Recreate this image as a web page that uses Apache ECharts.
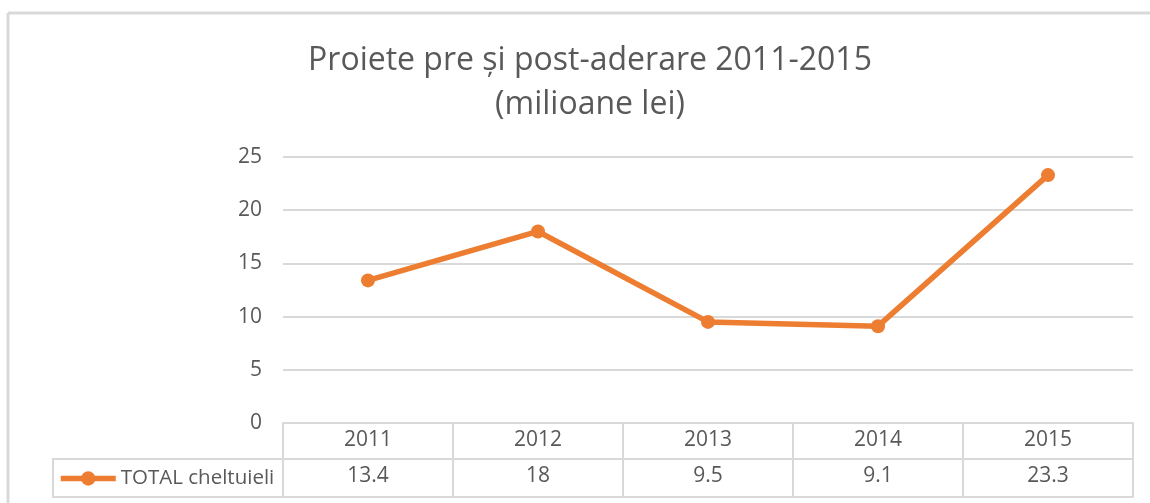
<!DOCTYPE html>
<html>
<head>
<meta charset="utf-8">
<title>Proiete pre si post-aderare</title>
<style>
html, body { margin: 0; padding: 0; background: #fff; }
#container { width: 1150px; height: 503px; }
</style>
</head>
<body>
<div id="container"></div>
<script src="https://cdn.jsdelivr.net/npm/echarts@6/dist/echarts.min.js"></script>
<script>
var years = ['2011', '2012', '2013', '2014', '2015'];
var totalCheltuieli = [13.4, 18, 9.5, 9.1, 23.3];
var seriesName = 'TOTAL cheltuieli';

var grey = '#d9d9d9';
var textGrey = '#595959';
var orange = '#ED7D31';
var font = 'Open Sans';

var chart = echarts.init(document.getElementById('container'));

// table row with the values, built from the data
var valueLabels = totalCheltuieli.map(function (v) { return String(v); });

var option = {
  animation: false,
  title: {
    text: 'Proiete pre și post-aderare 2011-2015\n(milioane lei)',
    left: 585,
    top: 34,
    textAlign: 'center',
    textStyle: {
      fontFamily: font,
      fontSize: 32,
      fontWeight: 'normal',
      color: textGrey,
      lineHeight: 44
    }
  },
  legend: {
    left: 58,
    top: 468,
    padding: 0,
    itemWidth: 55,
    itemHeight: 18,
    itemGap: 4,
    textStyle: { fontFamily: font, fontSize: 20.5, color: textGrey },
    lineStyle: { width: 'inherit' },
    data: [seriesName]
  },
  grid: { left: 283, right: 17, top: 157, bottom: 80, containLabel: false },
  xAxis: [
    {
      type: 'category',
      data: years,
      position: 'bottom',
      boundaryGap: true,
      axisLine: { show: true, lineStyle: { color: grey, width: 2 } },
      axisTick: { show: true, length: 74, lineStyle: { color: grey, width: 2 } },
      axisLabel: { margin: 7, fontFamily: font, fontSize: 21, color: textGrey }
    },
    {
      type: 'category',
      data: valueLabels,
      position: 'bottom',
      offset: 36,
      boundaryGap: true,
      axisLine: { show: true, lineStyle: { color: grey, width: 2 } },
      axisTick: { show: false },
      axisLabel: { margin: 7, fontFamily: font, fontSize: 21, color: textGrey }
    },
    {
      type: 'category',
      data: years,
      position: 'bottom',
      offset: 74,
      boundaryGap: true,
      axisLine: { show: true, lineStyle: { color: grey, width: 2 } },
      axisTick: { show: false },
      axisLabel: { show: false }
    }
  ],
  yAxis: {
    type: 'value',
    min: 0,
    max: 25,
    interval: 5,
    axisLine: { show: false },
    axisTick: { show: false },
    axisLabel: { margin: 21, fontFamily: font, fontSize: 21, color: textGrey },
    splitLine: { lineStyle: { color: grey, width: 2 } }
  },
  series: [
    {
      name: seriesName,
      type: 'line',
      xAxisIndex: 0,
      data: totalCheltuieli,
      symbol: 'circle',
      symbolSize: 14,
      lineStyle: { color: orange, width: 5.5 },
      itemStyle: { color: orange }
    }
  ],
  graphic: [
    // chart area border (top and left edge)
    { type: 'line', shape: { x1: 8, y1: 13, x2: 1150, y2: 13 }, style: { stroke: grey, lineWidth: 3 } },
    { type: 'line', shape: { x1: 8, y1: 13, x2: 8, y2: 503 }, style: { stroke: grey, lineWidth: 3 } },
    // legend cell of the data table
    { type: 'rect', shape: { x: 53, y: 459, width: 230, height: 38 }, style: { fill: 'none', stroke: grey, lineWidth: 2 }, z: -1 }
  ]
};

chart.setOption(option);
</script>
</body>
</html>
